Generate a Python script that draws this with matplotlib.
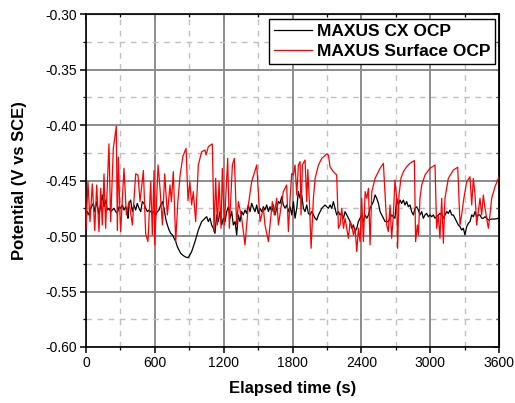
import matplotlib
matplotlib.use("Agg")
import matplotlib.pyplot as plt
from matplotlib.ticker import MultipleLocator, FormatStrFormatter

plt.rcParams['font.family'] = ['Liberation Sans', 'DejaVu Sans']

# elapsed time (s) and potential (V vs SCE)
t_cx = [0, 12, 26, 41, 64, 76, 93, 113, 128, 142, 157, 171, 186, 200, 215, 230, 244, 259,
        273, 288, 302, 317, 331, 346, 360, 366, 375, 389, 404, 418, 433, 447, 462, 477, 491,
        506, 520, 535, 549, 564, 578, 593, 607, 622, 636, 651, 666, 680, 694, 709, 724, 738,
        753, 767, 782, 796, 811, 825, 849, 869, 892, 921, 950, 979, 1008, 1037, 1052, 1066,
        1081, 1095, 1110, 1124, 1139, 1153, 1168, 1183, 1197, 1212, 1226, 1241, 1255, 1270,
        1284, 1299, 1313, 1328, 1342, 1357, 1371, 1386, 1400, 1415, 1430, 1444, 1459, 1473,
        1488, 1502, 1517, 1531, 1546, 1560, 1575, 1590, 1604, 1619, 1633, 1648, 1662, 1677,
        1691, 1706, 1720, 1735, 1750, 1764, 1779, 1793, 1808, 1822, 1837, 1851, 1866, 1880,
        1895, 1909, 1924, 1938, 1953, 1968, 1982, 1997, 2011, 2026, 2040, 2055, 2069, 2084,
        2098, 2113, 2127, 2142, 2156, 2171, 2185, 2200, 2214, 2229, 2244, 2258, 2273, 2287,
        2302, 2316, 2331, 2345, 2360, 2374, 2389, 2403, 2418, 2433, 2447, 2462, 2476, 2491,
        2505, 2520, 2534, 2549, 2563, 2578, 2592, 2607, 2635, 2664, 2693, 2708, 2722, 2737,
        2751, 2766, 2780, 2795, 2809, 2824, 2838, 2853, 2868, 2882, 2897, 2911, 2926, 2940,
        2955, 2969, 2984, 2998, 3013, 3027, 3042, 3056, 3071, 3085, 3100, 3115, 3129, 3144,
        3158, 3173, 3187, 3202, 3216, 3231, 3245, 3260, 3274, 3289, 3303, 3318, 3332, 3347,
        3362, 3376, 3391, 3405, 3420, 3434, 3449, 3463, 3478, 3492, 3507, 3536, 3565, 3594,
        3600]
v_cx = [-0.484, -0.478, -0.481, -0.475, -0.4706, -0.478, -0.469, -0.481, -0.472, -0.463,
        -0.4736, -0.4676, -0.4766, -0.475, -0.478, -0.4766, -0.475, -0.478, -0.4796, -0.4736,
        -0.475, -0.472, -0.4766, -0.4736, -0.478, -0.484, -0.4706, -0.4676, -0.478, -0.472,
        -0.4766, -0.4706, -0.475, -0.478, -0.469, -0.4706, -0.475, -0.478, -0.4766, -0.478,
        -0.4796, -0.478, -0.481, -0.478, -0.4766, -0.472, -0.469, -0.475, -0.484, -0.490,
        -0.4946, -0.4976, -0.499, -0.502, -0.505, -0.5096, -0.5126, -0.5156, -0.5177, -0.519,
        -0.5195, -0.514, -0.505, -0.4946, -0.487, -0.484, -0.4826, -0.487, -0.484, -0.490,
        -0.493, -0.4976, -0.481, -0.487, -0.478, -0.490, -0.484, -0.487, -0.478, -0.4736,
        -0.484, -0.478, -0.490, -0.487, -0.499, -0.481, -0.487, -0.478, -0.481, -0.4766,
        -0.4796, -0.472, -0.478, -0.4706, -0.475, -0.478, -0.472, -0.4796, -0.475, -0.478,
        -0.4736, -0.4766, -0.472, -0.478, -0.4736, -0.478, -0.472, -0.481, -0.475, -0.469,
        -0.4706, -0.4646, -0.472, -0.475, -0.472, -0.478, -0.4736, -0.481, -0.469, -0.484,
        -0.475, -0.460, -0.466, -0.463, -0.475, -0.478, -0.472, -0.4796, -0.481, -0.478,
        -0.481, -0.484, -0.4856, -0.481, -0.478, -0.475, -0.4736, -0.472, -0.4736, -0.475,
        -0.472, -0.475, -0.469, -0.475, -0.481, -0.478, -0.481, -0.4796, -0.484, -0.478,
        -0.481, -0.484, -0.487, -0.493, -0.490, -0.496, -0.493, -0.487, -0.484, -0.481,
        -0.487, -0.481, -0.484, -0.481, -0.475, -0.472, -0.469, -0.463, -0.466, -0.4706,
        -0.478, -0.481, -0.484, -0.487, -0.487, -0.481, -0.484, -0.466, -0.472, -0.4676,
        -0.4706, -0.4676, -0.472, -0.469, -0.4736, -0.472, -0.478, -0.481, -0.475, -0.4736,
        -0.4766, -0.481, -0.478, -0.484, -0.481, -0.4796, -0.4826, -0.481, -0.4826, -0.481,
        -0.484, -0.4826, -0.481, -0.4796, -0.481, -0.484, -0.481, -0.478, -0.4796, -0.4766,
        -0.481, -0.481, -0.484, -0.487, -0.490, -0.4916, -0.4946, -0.493, -0.499, -0.4916,
        -0.4886, -0.487, -0.481, -0.4826, -0.478, -0.4826, -0.481, -0.481, -0.484, -0.484,
        -0.4826, -0.484, -0.4856, -0.4847, -0.4847, -0.484, -0.484]

t_surf = [0, 17, 35, 55, 76, 93, 113, 128, 142, 157, 171, 200, 215, 238, 264, 273, 282, 296,
          302, 331, 352, 375, 404, 433, 453, 471, 500, 520, 540, 564, 578, 593, 599, 628, 645,
          666, 686, 709, 732, 744, 761, 782, 800, 820, 845, 872, 889, 905, 921, 935, 956, 979,
          1008, 1037, 1046, 1066, 1101, 1116, 1130, 1145, 1160, 1177, 1188, 1206, 1235, 1249,
          1276, 1293, 1313, 1328, 1357, 1386, 1415, 1444, 1488, 1517, 1546, 1560, 1590, 1624,
          1641, 1662, 1677, 1720, 1749, 1764, 1779, 1793, 1808, 1822, 1837, 1851, 1866, 1874,
          1886, 1909, 1924, 1933, 1947, 1962, 1982, 1997, 2026, 2055, 2098, 2113, 2127, 2156,
          2185, 2200, 2214, 2229, 2244, 2258, 2287, 2302, 2316, 2331, 2345, 2360, 2374, 2389,
          2403, 2418, 2433, 2447, 2462, 2476, 2491, 2520, 2563, 2592, 2607, 2621, 2635, 2650,
          2664, 2679, 2693, 2708, 2716, 2728, 2745, 2766, 2795, 2824, 2862, 2873, 2888, 2897,
          2911, 2926, 2955, 2998, 3042, 3056, 3071, 3085, 3100, 3115, 3129, 3158, 3202, 3240,
          3260, 3274, 3289, 3318, 3347, 3362, 3376, 3391, 3405, 3434, 3449, 3463, 3478, 3507,
          3521, 3536, 3565, 3594, 3600]
v_surf = [-0.494, -0.451, -0.487, -0.453, -0.495, -0.454, -0.496, -0.457, -0.490, -0.444,
          -0.493, -0.417, -0.487, -0.421, -0.401, -0.495, -0.429, -0.481, -0.496, -0.439,
          -0.481, -0.469, -0.490, -0.444, -0.445, -0.469, -0.441, -0.498, -0.505, -0.451,
          -0.499, -0.441, -0.508, -0.436, -0.457, -0.490, -0.444, -0.481, -0.454, -0.469,
          -0.442, -0.505, -0.470, -0.445, -0.428, -0.421, -0.468, -0.451, -0.472, -0.460,
          -0.487, -0.436, -0.424, -0.4225, -0.427, -0.4195, -0.417, -0.496, -0.448, -0.490,
          -0.451, -0.493, -0.439, -0.490, -0.430, -0.493, -0.436, -0.430, -0.490, -0.469,
          -0.484, -0.508, -0.472, -0.451, -0.436, -0.487, -0.475, -0.490, -0.505, -0.469,
          -0.481, -0.466, -0.490, -0.460, -0.454, -0.496, -0.466, -0.4436, -0.445, -0.436,
          -0.463, -0.436, -0.433, -0.481, -0.436, -0.4315, -0.469, -0.440, -0.469, -0.511,
          -0.466, -0.448, -0.436, -0.430, -0.426, -0.427, -0.4376, -0.442, -0.445, -0.493,
          -0.490, -0.475, -0.493, -0.484, -0.502, -0.487, -0.490, -0.499, -0.493, -0.514,
          -0.493, -0.505, -0.466, -0.505, -0.460, -0.466, -0.457, -0.508, -0.460, -0.448,
          -0.439, -0.4345, -0.463, -0.490, -0.496, -0.472, -0.502, -0.481, -0.4496, -0.466,
          -0.511, -0.463, -0.448, -0.442, -0.4375, -0.4345, -0.432, -0.505, -0.490, -0.499,
          -0.466, -0.454, -0.445, -0.439, -0.436, -0.493, -0.481, -0.502, -0.466, -0.5065,
          -0.466, -0.448, -0.4405, -0.438, -0.490, -0.481, -0.469, -0.451, -0.4466, -0.472,
          -0.448, -0.463, -0.490, -0.466, -0.481, -0.463, -0.475, -0.493, -0.481, -0.466,
          -0.4556, -0.448, -0.447]

fig = plt.figure(figsize=(5.15, 4.03), dpi=100)
ax = fig.add_axes([0.167, 0.139, 0.802, 0.826])

ax.plot(t_cx, v_cx, color='black', lw=0.9, label='MAXUS CX OCP', zorder=3)
ax.plot(t_surf, v_surf, color='red', lw=0.9, label='MAXUS Surface OCP', zorder=3)

ax.set_xlim(0, 3600)
ax.set_ylim(-0.60, -0.30)
ax.xaxis.set_major_locator(MultipleLocator(600))
ax.xaxis.set_minor_locator(MultipleLocator(300))
ax.yaxis.set_major_locator(MultipleLocator(0.05))
ax.yaxis.set_minor_locator(MultipleLocator(0.025))
ax.yaxis.set_major_formatter(FormatStrFormatter('%.2f'))

ax.grid(True, which='major', color='#8c8c8c', lw=1.4, ls='-')
ax.grid(True, which='minor', color='#c0c0c0', lw=1.0, ls=(0, (4, 4)))
ax.set_axisbelow(True)

for s in ax.spines.values():
    s.set_linewidth(1.2)

ax.tick_params(which='major', direction='out', length=4.5, width=1.1, labelsize=10, pad=2)
ax.tick_params(which='minor', direction='out', length=2.5, width=0.9)
# mirrored ticks on top and right point inward
sec_x = ax.secondary_xaxis('top')
sec_x.xaxis.set_major_locator(MultipleLocator(600))
sec_x.xaxis.set_minor_locator(MultipleLocator(300))
sec_x.tick_params(which='major', direction='in', length=4.5, width=1.1, labeltop=False)
sec_x.tick_params(which='minor', direction='in', length=2.5, width=0.9)
sec_y = ax.secondary_yaxis('right')
sec_y.yaxis.set_major_locator(MultipleLocator(0.05))
sec_y.yaxis.set_minor_locator(MultipleLocator(0.025))
sec_y.tick_params(which='major', direction='in', length=4.5, width=1.1, labelright=False)
sec_y.tick_params(which='minor', direction='in', length=2.5, width=0.9)

ax.set_xlabel('Elapsed time (s)', fontsize=12, fontweight='bold', labelpad=8)
ax.set_ylabel('Potential (V vs SCE)', fontsize=12, fontweight='bold', labelpad=13)

leg = ax.legend(loc='upper right', bbox_to_anchor=(0.990, 0.985), borderaxespad=0,
                prop={'weight': 'bold', 'size': 12.5}, fancybox=False, framealpha=1,
                edgecolor='black', handlelength=2.2, handletextpad=0.3,
                borderpad=0.25, labelspacing=0.33)
leg.get_frame().set_linewidth(1.0)

fig.savefig('out.png', dpi=100)
